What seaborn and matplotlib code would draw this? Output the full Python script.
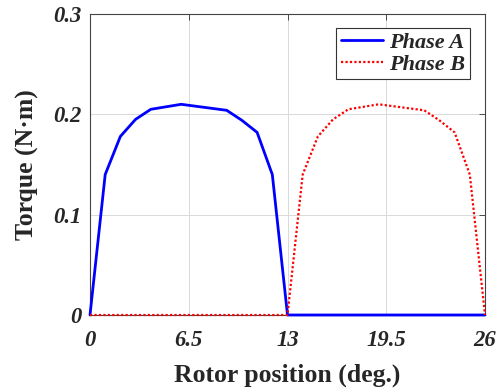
import matplotlib
matplotlib.use("Agg")
import matplotlib.pyplot as plt
import seaborn as sns
import pandas as pd

# Data
pos_a = [0, 1, 2, 3, 4, 6, 9, 10, 11, 12, 13, 26]
torque_a = [0, 0.140, 0.178, 0.195, 0.205, 0.210, 0.204, 0.194, 0.182, 0.140, 0, 0]
pos_b = [0, 13, 14, 15, 16, 17, 19, 22, 23, 24, 25, 26]
torque_b = [0, 0, 0.140, 0.178, 0.195, 0.205, 0.210, 0.204, 0.194, 0.182, 0.140, 0]
x_ticks = [0, 6.5, 13, 19.5, 26]
x_tick_labels = ["0", "6.5", "13", "19.5", "26"]
y_ticks = [0, 0.1, 0.2, 0.3]
y_tick_labels = ["0", "0.1", "0.2", "0.3"]

df = pd.concat([
    pd.DataFrame({"pos": pos_a, "torque": torque_a, "phase": "Phase A"}),
    pd.DataFrame({"pos": pos_b, "torque": torque_b, "phase": "Phase B"}),
])

sns.set_theme(style="white")
plt.rcParams["font.family"] = ["Liberation Serif", "DejaVu Serif"]

fig = plt.figure(figsize=(4.96, 3.90), dpi=100)
ax = fig.add_axes([90 / 496, 1 - 315 / 390, 395 / 496, 301 / 390])

sns.lineplot(data=df, x="pos", y="torque", hue="phase", style="phase",
             palette={"Phase A": "#0000ff", "Phase B": "#ff0000"},
             dashes={"Phase A": "", "Phase B": (1, 1)},
             sort=False, estimator=None, ax=ax, legend=True)
ax.lines[0].set_linewidth(2.0)
ax.lines[1].set_linewidth(1.6)
for ln in ax.lines:
    ln.set_clip_on(False)
ax.lines[0].set_zorder(3)
ax.lines[1].set_zorder(4)

ax.set_xlim(0, 26)
ax.set_ylim(0, 0.3)
ax.set_xticks(x_ticks)
ax.set_xticklabels(x_tick_labels)
ax.set_yticks(y_ticks)
ax.set_yticklabels(y_tick_labels)
for lab in ax.get_xticklabels() + ax.get_yticklabels():
    lab.set_fontweight("bold")
    lab.set_fontstyle("italic")
    lab.set_fontsize(16.3)
ax.tick_params(axis="x", direction="in", length=4, width=0.6, color="#333333",
               top=True, pad=11)
ax.tick_params(axis="y", direction="in", length=4, width=0.6, color="#333333",
               right=True, pad=6)
ax.grid(True, color="#d9d9d9", linewidth=0.7)
ax.set_axisbelow(True)
for sp in ax.spines.values():
    sp.set_visible(True)
    sp.set_color("#444444")
    sp.set_linewidth(0.8)

ax.set_xlabel("Rotor position (deg.)", fontsize=18.5, fontweight="bold", labelpad=9)
ax.set_ylabel("Torque (N·m)", fontsize=18.5, fontweight="bold", labelpad=10)

leg = ax.legend(loc="upper right", bbox_to_anchor=(470 / 496, 1 - 28 / 390),
                bbox_transform=fig.transFigure, borderaxespad=0, frameon=True,
                fancybox=False, edgecolor="#333333", framealpha=1, borderpad=0.2,
                handlelength=1.9, handletextpad=0.3, labelspacing=0.05,
                prop={"size": 16, "weight": "bold", "style": "italic",
                      "family": ["Liberation Serif"]})
leg.get_frame().set_linewidth(0.8)
lh = leg.get_lines()
lh[0].set_linewidth(2.0)
lh[1].set_linewidth(1.6)

fig.savefig("out.png", dpi=100)
